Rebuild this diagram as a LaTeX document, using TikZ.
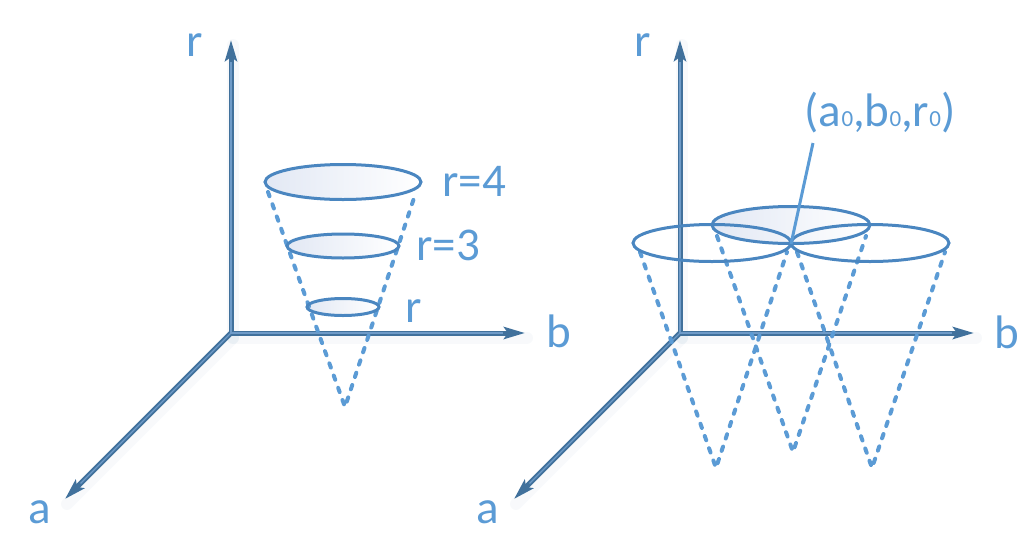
\documentclass[tikz,border=0pt]{standalone}
\usepackage{fontspec}
\setmainfont{Carlito}
\usetikzlibrary{arrows.meta}
\definecolor{axisblue}{HTML}{41719C}
\definecolor{axishl}{HTML}{6F9BC8}
\definecolor{txtblue}{HTML}{5B9BD5}
\definecolor{ellblue}{HTML}{4A86C0}
\definecolor{shadeblue}{HTML}{E2E8F4}
\newcommand\zsub{{\fontsize{23}{23}\selectfont 0}}
\begin{document}
\begin{tikzpicture}[x=1pt,y=-1pt,
  axis/.style={line width=5pt, axisblue, line cap=round, -{Stealth[length=21pt,width=12pt,inset=4pt]}},
  axislight/.style={line width=1.1pt, axishl, shorten >=22pt},
  axisglow/.style={line width=12pt, axisblue, opacity=0.04, line cap=round},
  lbl/.style={text=txtblue, font=\fontsize{47}{47}\selectfont, inner sep=0pt, anchor=base},
  ell/.style={draw=ellblue, line width=3pt},
  ellfill/.style={left color=shadeblue, right color=white, draw=none},
  cone/.style={txtblue, line width=4pt, line cap=round, dash pattern=on 4.5pt off 8.5pt},
  lead/.style={txtblue, line width=3pt}]
\useasboundingbox (0,0) rectangle (1029,547);

% ---------- left diagram ----------
\coordinate (O1) at (231,333);
\coordinate (r1) at (231,40);
\coordinate (b1) at (525,333);
\coordinate (a1) at (65,499);
\foreach \e in {r1,b1,a1}{\draw[axisglow] ([shift={(2,5)}]O1) -- ([shift={(2,5)}]\e);}
\draw[axis] (O1) -- (r1);
\draw[axis] (O1) -- (b1);
\draw[axis] (O1) -- (a1);
\draw[axislight] (O1) -- (r1);
\draw[axislight] (O1) -- (b1);
\draw[axislight] (O1) -- (a1);

\coordinate (c4) at (343,182);
\coordinate (c3) at (343,246);
\coordinate (cr) at (343,307);
\coordinate (apex1) at (345,407);
\coordinate (t1l) at (268,192);
\coordinate (t1r) at (416,192);
\fill[ellfill] (c4) ellipse [x radius=78pt, y radius=17.5pt];
\fill[ellfill] (c3) ellipse [x radius=56pt, y radius=12pt];
\fill[ellfill] (cr) ellipse [x radius=36pt, y radius=8.5pt];
\draw[cone] (t1l) -- (apex1) -- (t1r);
\draw[ell] (c4) ellipse [x radius=78pt, y radius=17.5pt];
\draw[ell] (c3) ellipse [x radius=56pt, y radius=12pt];
\draw[ell] (cr) ellipse [x radius=36pt, y radius=8.5pt];

\node[lbl] (lr1) at (195,56) {r};
\node[lbl] (lb1) at (559,347) {b};
\node[lbl] (la1) at (40,523) {a};
\node[lbl] (l4) at (474,196) {r=4};
\node[lbl] (l3) at (448,260) {r=3};
\node[lbl] (lr) at (414,322) {r};

% ---------- right diagram ----------
\coordinate (O2) at (680,333);
\coordinate (r2) at (680,40);
\coordinate (b2) at (974,333);
\coordinate (a2) at (514,499);
\foreach \e in {r2,b2,a2}{\draw[axisglow] ([shift={(2,5)}]O2) -- ([shift={(2,5)}]\e);}
\draw[axis] (O2) -- (r2);
\draw[axis] (O2) -- (b2);
\draw[axis] (O2) -- (a2);
\draw[axislight] (O2) -- (r2);
\draw[axislight] (O2) -- (b2);
\draw[axislight] (O2) -- (a2);

\coordinate (cL) at (712,243);
\coordinate (cM) at (791,225);
\coordinate (cR) at (870,243);
\coordinate (apL) at (716,468);
\coordinate (apM) at (793,452);
\coordinate (apR) at (872,468);
\fill[ellfill] (cM) ellipse [x radius=79pt, y radius=18.5pt];
\draw[cone] (640,252) -- (apL) -- (787,252);
\draw[cone] (717,236) -- (apM) -- (866,236);
\draw[cone] (797,252) -- (apR) -- (945,252);
\draw[ell] (cM) ellipse [x radius=79pt, y radius=18.5pt];
\draw[ell] (cL) ellipse [x radius=79pt, y radius=18.5pt];
\draw[ell] (cR) ellipse [x radius=79pt, y radius=18.5pt];

\coordinate (p0) at (791,244);
\coordinate (leadtop) at (813,143);
\draw[lead] (leadtop) -- (p0);

\node[lbl] (lr2) at (643,56) {r};
\node[lbl] (lb2) at (1007,348) {b};
\node[lbl] (la2) at (488,523) {a};
\node[lbl] (pt) at (880,126) {(a\zsub,b\zsub,r\zsub)};
\end{tikzpicture}
\end{document}
